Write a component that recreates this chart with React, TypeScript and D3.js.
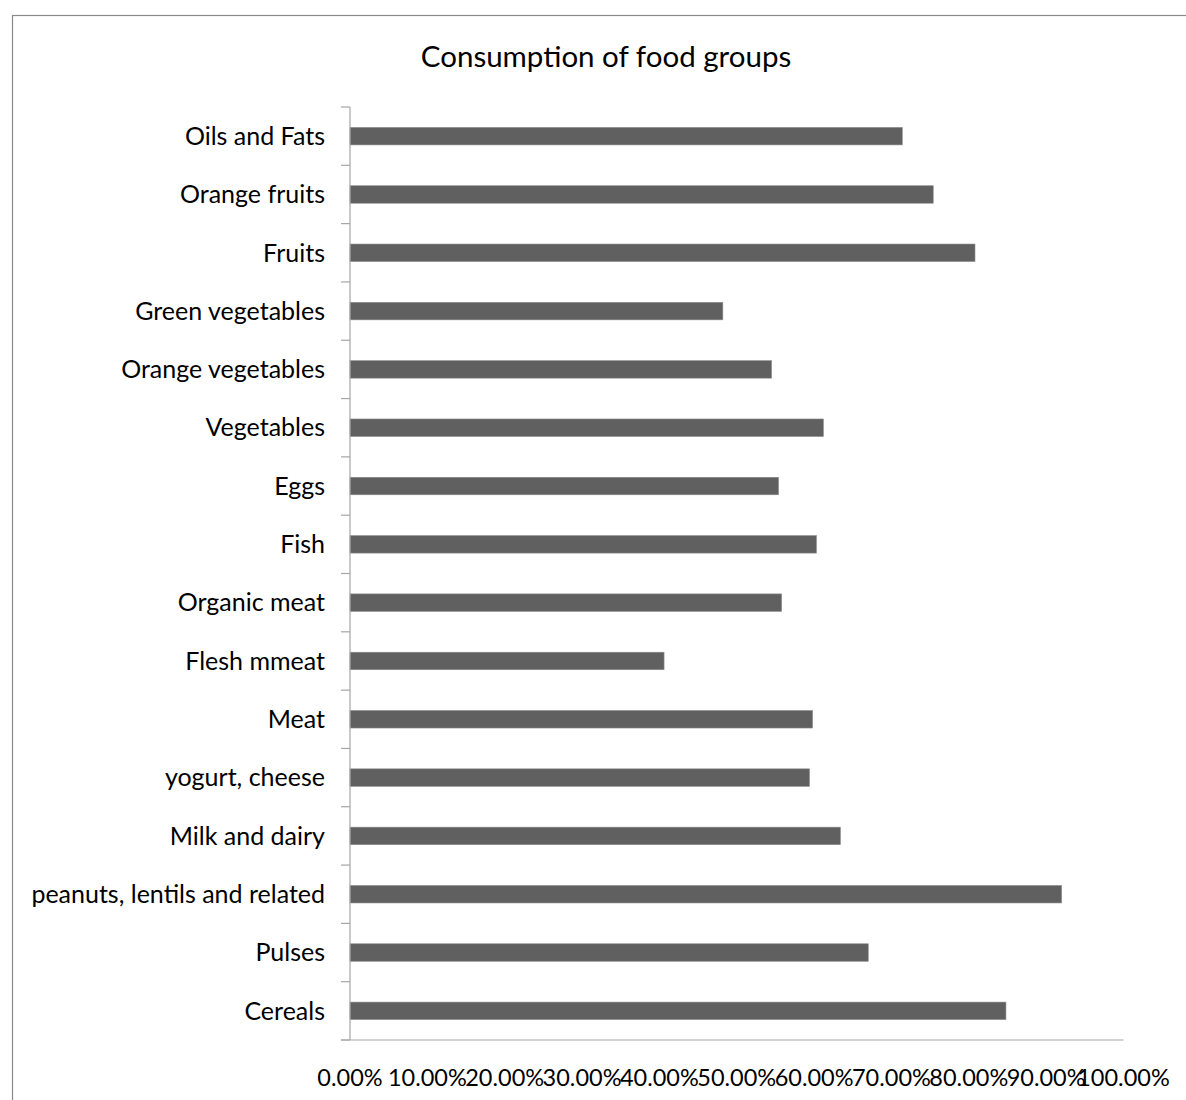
import React from "react";
import * as d3 from "d3";

// Food groups, listed top to bottom as drawn
const categories = [
  "Oils and Fats",
  "Orange fruits",
  "Fruits",
  "Green vegetables",
  "Orange vegetables",
  "Vegetables",
  "Eggs",
  "Fish",
  "Organic meat",
  "Flesh mmeat",
  "Meat",
  "yogurt, cheese",
  "Milk and dairy",
  "peanuts, lentils and related",
  "Pulses",
  "Cereals",
];

// Share of respondents consuming each group
const values = [
  0.714, 0.754, 0.808, 0.482, 0.545, 0.612, 0.554, 0.603,
  0.558, 0.406, 0.598, 0.594, 0.634, 0.92, 0.67, 0.848,
];

const xTicks = [0, 0.1, 0.2, 0.3, 0.4, 0.5, 0.6, 0.7, 0.8, 0.9, 1.0];

const title = "Consumption of food groups";

const W = 1186;
const H = 1100;
const FONT = "Lato, 'Open Sans', sans-serif";

export default function App() {
  const left = 350;
  const right = 1123.5;
  const top = 107;
  const bottom = 1040;

  const x = d3.scaleLinear().domain([0, 1]).range([left, right]);
  const y = d3
    .scaleBand<string>()
    .domain(categories)
    .range([top, bottom])
    .paddingInner(0.7)
    .paddingOuter(0.35);

  const step = y.step();
  const boundaries = d3.range(categories.length + 1).map((i) => top + i * step);
  const fmt = d3.format(".2%");
  const axisColor = "#a6a6a6";

  return (
    <svg
      width={W}
      height={H}
      style={{ position: "absolute", left: 0, top: 0, background: "#fff" }}
    >
      <rect x={12.5} y={15.5} width={1300} height={1300} fill="#fff" stroke="#8a8a8a" strokeWidth={1.2} />

      <text x={606} y={67} textAnchor="middle" fontFamily={FONT} fontSize={29.5} fill="#000">
        {title}
      </text>

      {categories.map((c, i) => (
        <rect
          key={c}
          x={x(0)}
          y={y(c)}
          width={x(values[i]) - x(0)}
          height={y.bandwidth()}
          fill="#606060"
          stroke="#8a8a8a"
          strokeWidth={0.6}
        />
      ))}

      {/* category axis */}
      <line x1={left} x2={left} y1={top} y2={bottom} stroke={axisColor} strokeWidth={1.2} />
      {boundaries.map((b, i) => (
        <line key={i} x1={left - 9} x2={left} y1={b} y2={b} stroke={axisColor} strokeWidth={1.2} />
      ))}
      {categories.map((c) => (
        <text
          key={c}
          x={325}
          y={(y(c) as number) + y.bandwidth() / 2}
          dy="0.35em"
          textAnchor="end"
          fontFamily={FONT}
          fontSize={25}
          fill="#000"
        >
          {c}
        </text>
      ))}

      {/* value axis */}
      <line x1={left - 9} x2={right} y1={bottom} y2={bottom} stroke={axisColor} strokeWidth={1.2} />
      {xTicks.map((t) => (
        <text
          key={t}
          x={x(t)}
          y={1086}
          textAnchor="middle"
          fontFamily={FONT}
          fontSize={23.5}
          fill="#000"
        >
          {fmt(t)}
        </text>
      ))}
    </svg>
  );
}
